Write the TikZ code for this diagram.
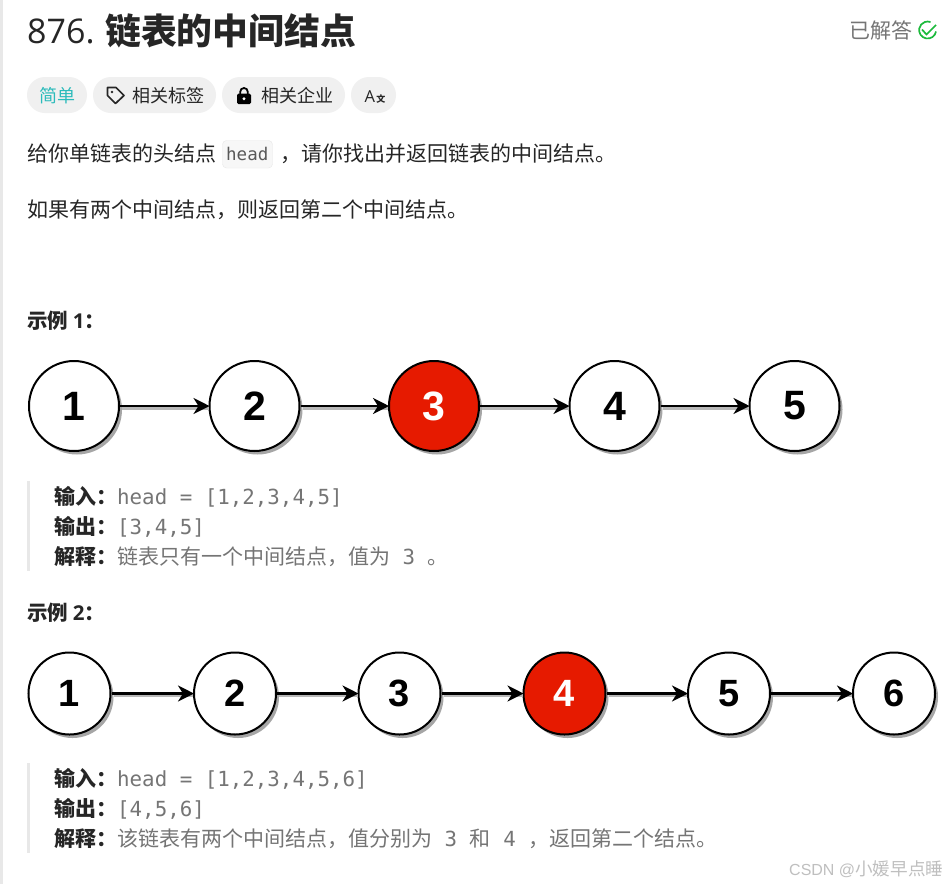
\documentclass[tikz,border=0pt]{standalone}
\usepackage{fontspec}
\setmainfont{Noto Sans CJK SC}
\newfontfamily\codefont{DejaVu Sans Mono}
\newfontfamily\numfont{Liberation Sans}
\newfontfamily\latinfont{Open Sans}
\usetikzlibrary{arrows.meta}
\usetikzlibrary{shadows}
\definecolor{ink}{HTML}{262626}
\definecolor{muted}{HTML}{757575}
\definecolor{pill}{HTML}{F0F0F0}
\definecolor{rule}{HTML}{E8E8E8}
\definecolor{teal}{HTML}{2CBBBB}
\definecolor{okgreen}{HTML}{1CBA3C}
\definecolor{hit}{HTML}{E61A00}
\newcommand{\fsz}[1]{\fontsize{#1}{#1}\selectfont}
\newcommand{\cd}[1]{{\codefont\fsz{20.8}\color{muted}#1}}
\newcommand{\chain}[2]{
  \draw [linkshade] ([xshift=2pt, yshift=-2.2pt]#1.east)--([yshift=-2.2pt]#2.west);
  \draw [link] (#1)--(#2);
}
\tikzset{
  txt/.style={anchor=base west, inner sep=0pt, text=ink, font=\fsz{21}},
  lead/.style={txt, font=\fsz{20.5}\bfseries},
  tag/.style={fill=pill, rounded corners=18pt},
  listnode/.style={circle, draw=black, line width=2pt, fill=white, text=black, inner sep=0pt,
    drop shadow={shadow xshift=3pt, shadow yshift=-3.5pt, fill=black!35, opacity=1}},
  big/.style={listnode, minimum size=90pt, font=\numfont\fsz{41}\bfseries},
  small/.style={listnode, minimum size=82pt, font=\numfont\fsz{38}\bfseries},
  middle/.style={fill=hit, text=white},
  link/.style={draw=black, line width=2.4pt, shorten >=-1pt, -{Stealth[length=16pt, width=16pt, inset=5pt]}},
  linkshade/.style={draw=black!28, line width=3pt},
}
\begin{document}
\begin{tikzpicture}[x=1pt, y=-1pt]
\useasboundingbox (0, 0) rectangle (947, 884);
\fill[white] (0, 0) rectangle (947, 884);
\fill[rule] (0, 0) rectangle (3.3, 884);

% header
\node [txt, font=\latinfont\fsz{34}] (number) at (27, 43) {876.};
\node [txt, font=\fsz{35.8}\bfseries] (title) at (105, 44) {链表的中间结点};
\node [txt, text=muted] (solved) at (849, 38.5) {已解答};
\draw [okgreen, line width=1.7pt] (936, 31.5) arc [start angle=10, end angle=290, radius=8.5];
\draw [okgreen, line width=1.7pt] (922, 29.5)--(926.5, 34.5)--(936, 25);

% tags
\fill [tag] (27, 77) rectangle (87, 113);
\fill [tag] (93, 77) rectangle (216, 113);
\fill [tag] (222, 77) rectangle (345, 113);
\fill [tag] (351, 77) rectangle (396, 113);
\node [txt, text=teal, font=\fsz{18}] (easy) at (39, 102) {简单};
\node [txt, font=\fsz{18}] (topics) at (132, 102) {相关标签};
\node [txt, font=\fsz{18}] (firms) at (261, 102) {相关企业};
\node [txt, font=\latinfont\fsz{16.5}] (lang) at (364.5, 102) {A};
\node [txt, font=\fsz{9}\bfseries] (langb) at (376.2, 102) {文};
\draw [ink, line width=1.7pt, line join=round] (107.5, 87.5)--(116, 87.5)--(124, 95.5)--(115.5, 103.5)--(107.5, 95.5)--cycle;
\fill [ink] (112, 92) circle [radius=1.4];
\draw [black, line width=1.8pt] (240.2, 94)--(240.2, 91.8) arc [start angle=180, end angle=360, radius=3.8]--(247.8, 94);
\fill [black, rounded corners=1.5pt] (237, 93.5) rectangle (251, 104);
\fill [white] (244, 98.7) circle [radius=1.6];

% statement
\node [txt] (ask) at (27, 161) {给你单链表的头结点};
\draw [rule, fill=black!3, rounded corners=4pt] (222.5, 140.5) rectangle (272.5, 168);
\node [txt, font=\codefont\fsz{17.5}, text=black!65] (head) at (226, 160) {head};
\node [txt] (ask2) at (280, 161) {，请你找出并返回链表的中间结点。};
\node [txt] (rule2) at (27, 217) {如果有两个中间结点，则返回第二个中间结点。};

% example 1
\node [lead] (ex1) at (27, 328.5) {示例 {\latinfont 1}：};

\node [big] (a1) at (74, 406) {1};
\node [big] (a2) at (254.5, 406) {2};
\node [big, middle] (a3) at (434, 406) {3};
\node [big] (a4) at (614.5, 406) {4};
\node [big] (a5) at (794.5, 406) {5};

\chain{a1}{a2}
\chain{a2}{a3}
\chain{a3}{a4}
\chain{a4}{a5}

\fill [rule] (27, 481) rectangle (30, 571);
\node [lead, font=\fsz{21}\bfseries] (in1) at (54, 504) {输入：};
\node [txt] (in1v) at (117, 504) {\cd{head = [1,2,3,4,5]}};
\node [lead, font=\fsz{21}\bfseries] (out1) at (54, 534) {输出：};
\node [txt] (out1v) at (117, 534) {\cd{[3,4,5]}};
\node [lead, font=\fsz{21}\bfseries] (why1) at (54, 564) {解释：};
\node [txt, text=muted] (why1v) at (117, 564) {链表只有一个中间结点，值为\cd{~3~}。};

% example 2
\node [lead] (ex2) at (27, 620) {示例 {\latinfont 2}：};

\node [small] (b1) at (69.5, 693.5) {1};
\node [small] (b2) at (235, 693.5) {2};
\node [small] (b3) at (399.5, 693.5) {3};
\node [small, middle] (b4) at (564.5, 693.5) {4};
\node [small] (b5) at (729, 693.5) {5};
\node [small] (b6) at (894, 693.5) {6};

\chain{b1}{b2}
\chain{b2}{b3}
\chain{b3}{b4}
\chain{b4}{b5}
\chain{b5}{b6}

\fill [rule] (27, 763) rectangle (30, 853);
\node [lead, font=\fsz{21}\bfseries] (in2) at (54, 786) {输入：};
\node [txt] (in2v) at (117, 786) {\cd{head = [1,2,3,4,5,6]}};
\node [lead, font=\fsz{21}\bfseries] (out2) at (54, 816) {输出：};
\node [txt] (out2v) at (117, 816) {\cd{[4,5,6]}};
\node [lead, font=\fsz{21}\bfseries] (why2) at (54, 846) {解释：};
\node [txt, text=muted] (why2v) at (117, 846) {该链表有两个中间结点，值分别为\cd{~3~}和\cd{~4~}，返回第二个结点。};

\node [txt, text=black!25, font=\fsz{17.6}] (mark) at (789, 875) {{\numfont\fsz{16}CSDN @}小媛早点睡};

\end{tikzpicture}
\end{document}
